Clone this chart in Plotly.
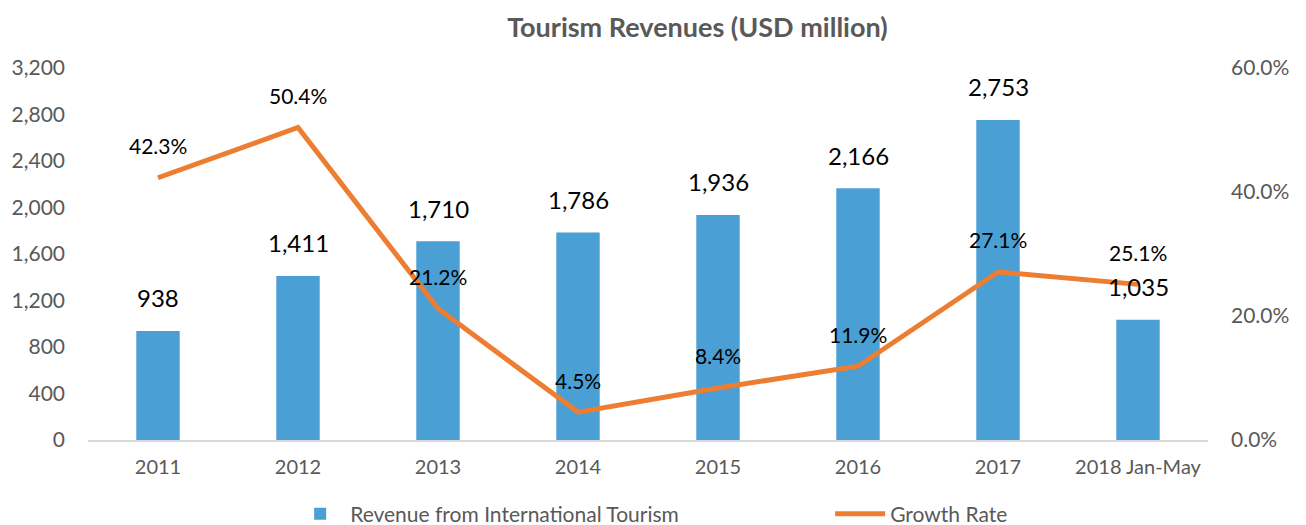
import plotly.graph_objects as go

categories = ["2011", "2012", "2013", "2014", "2015", "2016", "2017", "2018 Jan-May"]
revenue = [938, 1411, 1710, 1786, 1936, 2166, 2753, 1035]
growth = [42.3, 50.4, 21.2, 4.5, 8.4, 11.9, 27.1, 25.1]
left_ticks = [0, 400, 800, 1200, 1600, 2000, 2400, 2800, 3200]
right_ticks = [0, 20, 40, 60]

FONT = "Lato, 'Open Sans', sans-serif"
GRAY = "#595959"
BLUE = "#4A9FD4"
ORANGE = "#ED7D31"

fig = go.Figure()
fig.add_trace(go.Bar(
    x=categories, y=revenue, name="Revenue from International Tourism",
    marker=dict(color=BLUE, line=dict(width=0)), width=0.31, yaxis="y",
))
fig.add_trace(go.Scatter(
    x=categories, y=growth, name="Growth Rate", mode="lines",
    line=dict(color=ORANGE, width=5), yaxis="y2",
))

annotations = []
for i, v in enumerate(revenue):
    annotations.append(dict(x=i, y=v, xref="x", yref="y", text=f"{v:,}",
                            showarrow=False, yshift=33,
                            font=dict(family=FONT, size=24, color="#000000")))
for i, g in enumerate(growth):
    annotations.append(dict(x=i, y=g, xref="x", yref="y2", text=f"{g:.1f}%",
                            showarrow=False, yshift=32,
                            font=dict(family=FONT, size=21, color="#000000")))

fig.update_layout(
    width=1306, height=525,
    margin=dict(l=88, r=98, t=68, b=85, autoexpand=False),
    paper_bgcolor="white", plot_bgcolor="white",
    title=dict(text="<b>Tourism Revenues (USD million)</b>", x=0.534, xanchor="center",
               y=0.947, yanchor="middle",
               font=dict(family=FONT, size=27, color=GRAY)),
    font=dict(family=FONT, size=20, color=GRAY),
    xaxis=dict(type="category", range=[-0.5, len(categories) - 0.5], automargin=False,
               showgrid=False, showline=True, linecolor="#D9D9D9",
               linewidth=1.5, ticks="", tickfont=dict(size=20, color=GRAY),
               ticklabelstandoff=8),
    yaxis=dict(range=[0, 3200], tickvals=left_ticks, automargin=False,
               ticktext=[f"{t:,}" for t in left_ticks],
               showgrid=False, zeroline=False, showline=False, ticks="",
               tickfont=dict(size=21, color=GRAY), ticklabelstandoff=22),
    yaxis2=dict(range=[0, 60], tickvals=right_ticks, automargin=False,
                ticktext=[f"{t:.1f}%" for t in right_ticks],
                overlaying="y", side="right", showgrid=False, zeroline=False,
                showline=False, ticks="", tickfont=dict(size=21, color=GRAY),
                ticklabelstandoff=22),
    legend=dict(orientation="h", x=0.1805, xanchor="left", yref="container",
                y=0.021, yanchor="middle",
                font=dict(size=21, color=GRAY), traceorder="normal",
                itemwidth=50, entrywidth=475, entrywidthmode="pixels"),
    bargap=0.69,
    annotations=annotations,
    showlegend=True,
)

fig.write_html("out.html", post_script="document.body.style.margin='0';",
               config={"displayModeBar": False})
